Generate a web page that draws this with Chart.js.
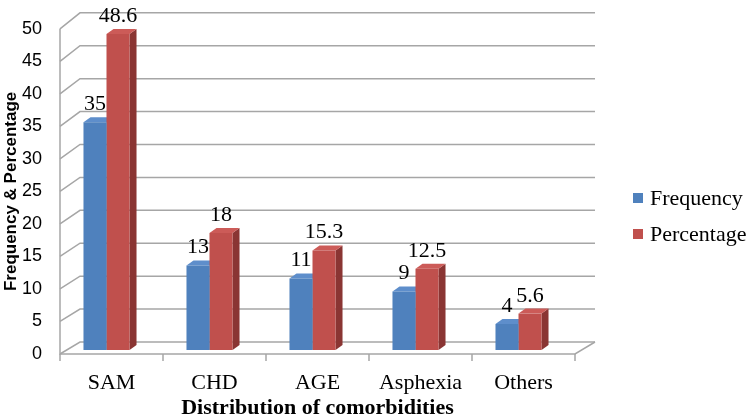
<!DOCTYPE html>
<html><head><meta charset="utf-8">
<script src="https://cdn.jsdelivr.net/npm/chart.js@4.4.0/dist/chart.umd.min.js"></script>
<style>html,body{margin:0;padding:0;background:#fff;}canvas{display:block}</style>
</head><body>
<canvas id="c" width="746" height="419"></canvas>
<script>
const categories = ['SAM', 'CHD', 'AGE', 'Asphexia', 'Others'];
const frequency = [35, 13, 11, 9, 4];
const percentage = [48.6, 18, 15.3, 12.5, 5.6];
const seriesNames = ['Frequency', 'Percentage'];
const yMin = 0, yMax = 50, yStep = 5;

const frontColors = ['#4F81BD', '#C0504D'];
const topColors = ['#5E8ECB', '#CC5B58'];
const sideColors = ['#385E8C', '#8A3533'];
const BAR_SHIFT = {x: -5, y: -4};
const BAR_DEPTH = {x: 7, y: -5};
const WALL = {x: 20, yBottom: -12, yTop: -16};
const GRID = '#A6A6A6';

const threeD = {
  id: 'threeD',
  beforeDatasetsDraw(chart) {
    const ctx = chart.ctx, xs = chart.scales.x, ys = chart.scales.y;
    const L = chart.chartArea.left, R = chart.chartArea.right;
    ctx.save();
    ctx.strokeStyle = GRID; ctx.lineWidth = 1.5;
    for (let v = yMin; v <= yMax; v += yStep) {
      const yf = ys.getPixelForValue(v);
      const dy = WALL.yBottom + (WALL.yTop - WALL.yBottom) * (v - yMin) / (yMax - yMin);
      ctx.beginPath();
      ctx.moveTo(L, yf); ctx.lineTo(L + WALL.x, yf + dy); ctx.lineTo(R + WALL.x, yf + dy);
      ctx.stroke();
    }
    const y0 = ys.getPixelForValue(yMin), yT = ys.getPixelForValue(yMax);
    ctx.beginPath();
    ctx.moveTo(L, yT); ctx.lineTo(L, y0); ctx.lineTo(R, y0);
    ctx.lineTo(R + WALL.x, y0 + WALL.yBottom);
    ctx.stroke();
    const n = categories.length;
    for (let i = 0; i <= n; i++) {
      const x = xs.left + i * (xs.right - xs.left) / n;
      ctx.beginPath(); ctx.moveTo(x, y0); ctx.lineTo(x, y0 + 7); ctx.stroke();
    }
    ctx.translate(BAR_SHIFT.x, BAR_SHIFT.y);
    chart.data.datasets.forEach((ds, di) => {
      const meta = chart.getDatasetMeta(di);
      meta.data.forEach(el => {
        const x1 = el.x - el.width / 2, x2 = el.x + el.width / 2, t = el.y, b = el.base;
        ctx.fillStyle = sideColors[di];
        ctx.beginPath();
        ctx.moveTo(x2, t); ctx.lineTo(x2 + BAR_DEPTH.x, t + BAR_DEPTH.y);
        ctx.lineTo(x2 + BAR_DEPTH.x, b + BAR_DEPTH.y); ctx.lineTo(x2, b); ctx.closePath(); ctx.fill();
        ctx.fillStyle = topColors[di];
        ctx.beginPath();
        ctx.moveTo(x1, t); ctx.lineTo(x1 + BAR_DEPTH.x, t + BAR_DEPTH.y);
        ctx.lineTo(x2 + BAR_DEPTH.x, t + BAR_DEPTH.y); ctx.lineTo(x2, t); ctx.closePath(); ctx.fill();
      });
    });
    ctx.restore();
    ctx.save();
    ctx.translate(BAR_SHIFT.x, BAR_SHIFT.y);
  },
  afterDatasetsDraw(chart) {
    const ctx = chart.ctx;
    ctx.restore();
    ctx.save();
    ctx.fillStyle = '#000';
    ctx.font = '22px "Liberation Serif"';
    ctx.textAlign = 'center'; ctx.textBaseline = 'alphabetic';
    chart.data.datasets.forEach((ds, di) => {
      const meta = chart.getDatasetMeta(di);
      meta.data.forEach((el, i) => {
        ctx.fillText(String(ds.data[i]), el.x + BAR_SHIFT.x, el.y + BAR_SHIFT.y - 12);
      });
    });
    ctx.textAlign = 'left'; ctx.textBaseline = 'middle';
    chart.data.datasets.forEach((ds, di) => {
      const cy = 198 + di * 36;
      ctx.fillStyle = frontColors[di];
      ctx.fillRect(633, cy - 5, 10, 10);
      ctx.fillStyle = '#000';
      ctx.fillText(ds.label, 650, cy + 1);
    });
    ctx.restore();
  }
};

new Chart(document.getElementById('c'), {
  type: 'bar',
  data: {
    labels: categories,
    datasets: [
      {label: seriesNames[0], data: frequency, backgroundColor: frontColors[0], clip: false},
      {label: seriesNames[1], data: percentage, backgroundColor: frontColors[1], clip: false}
    ]
  },
  options: {
    responsive: false,
    animation: false,
    events: [],
    layout: {padding: {left: 0, right: 171, top: 24, bottom: 0}},
    datasets: {bar: {barPercentage: 1.0, categoryPercentage: 0.447}},
    plugins: {legend: {display: false}, tooltip: {enabled: false}},
    scales: {
      x: {
        offset: true,
        grid: {display: false, drawTicks: false},
        border: {display: false},
        ticks: {font: {family: 'Liberation Serif', size: 22}, color: '#000', padding: 16},
        title: {display: true, text: 'Distribution of comorbidities', color: '#000',
          font: {family: 'Liberation Serif', size: 22, weight: 'bold', lineHeight: 1}, padding: {top: 0, bottom: 0}},
        afterFit(s) { s.height = 65; }
      },
      y: {
        min: yMin, max: yMax,
        grid: {display: false, drawTicks: false},
        border: {display: false},
        ticks: {stepSize: yStep, font: {family: 'Liberation Sans', size: 18}, color: '#000', padding: 18},
        title: {display: true, text: 'Frequency & Percentage', color: '#000',
          font: {family: 'Liberation Sans', size: 17, weight: 'bold'}, padding: {top: 1, bottom: 0}},
        afterFit(s) { s.width = 60; }
      }
    }
  },
  plugins: [threeD]
});
</script>
</body></html>
